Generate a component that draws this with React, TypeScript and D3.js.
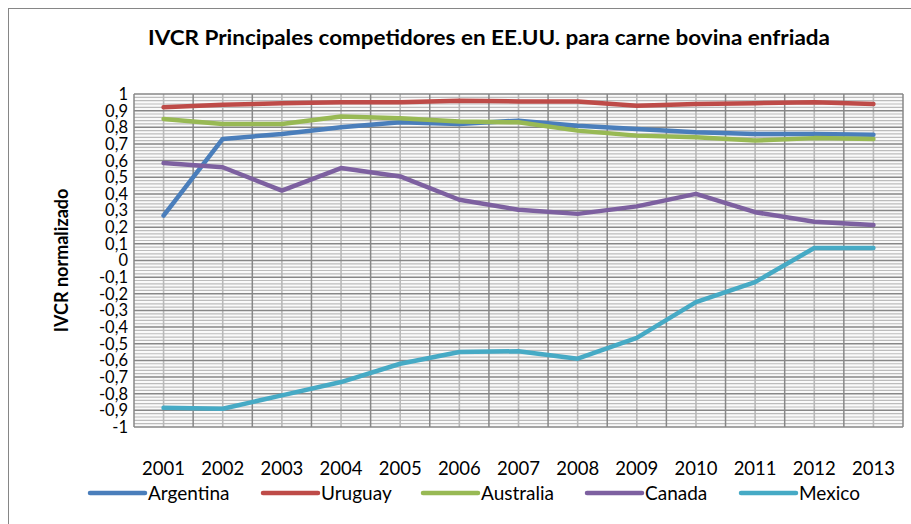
import React from "react";
import * as d3 from "d3";

const years = ["2001","2002","2003","2004","2005","2006","2007","2008","2009","2010","2011","2012","2013"];
const argentina = [0.27,0.73,0.76,0.80,0.83,0.82,0.84,0.81,0.79,0.77,0.76,0.76,0.755];
const uruguay = [0.92,0.935,0.945,0.95,0.95,0.96,0.955,0.955,0.93,0.94,0.945,0.95,0.94];
const australia = [0.85,0.82,0.82,0.865,0.855,0.835,0.83,0.78,0.75,0.74,0.72,0.735,0.73];
const canada = [0.585,0.56,0.42,0.555,0.505,0.365,0.305,0.28,0.325,0.40,0.29,0.233,0.213];
const mexico = [-0.885,-0.89,-0.81,-0.73,-0.62,-0.55,-0.545,-0.59,-0.465,-0.25,-0.13,0.075,0.075];
const seriesNames = ["Argentina","Uruguay","Australia","Canada","Mexico"];
const seriesColors = ["#4a7ebb","#be4b48","#98b954","#7d60a0","#46aac5"];
const yTicks = d3.range(-10, 11).map((d) => d / 10);

const W = 911, H = 524;
const L = 134, R = 903, T = 94, B = 427;

export default function App() {
  const seriesData = [argentina, uruguay, australia, canada, mexico];
  const x = d3.scaleBand().domain(years).range([L, R]).paddingInner(0).paddingOuter(0);
  const y = d3.scaleLinear().domain([-1, 1]).range([B, T]);
  const cx = (yr: string) => (x(yr) as number) + x.bandwidth() / 2;
  const line = d3.line<number>().x((_, i) => cx(years[i])).y((v) => y(v));
  const minor = d3.range(-50, 51).map((d) => d / 50).filter((v) => Math.abs(Math.round(v * 10) - v * 10) > 1e-6);
  const fmt = (v: number) => (v === 0 ? "0" : (Math.abs(v - Math.round(v)) < 1e-9 ? String(Math.round(v)) : v.toFixed(1).replace(".", ",")));
  const legendX = [90, 263, 423, 587, 741];
  const font = "Lato, 'Open Sans', sans-serif";
  return (
    <svg width={W} height={H} style={{ position: "absolute", left: 0, top: 0, background: "#fff" }} fontFamily={font}>
      <rect x={8.5} y={8.5} width={1000} height={1000} fill="#fff" stroke="#868686" strokeWidth={1} />
      <text x={489} y={45} textAnchor="middle" fontWeight="bold" fontSize={20} fill="#000" textLength={682} lengthAdjust="spacingAndGlyphs">
        IVCR  Principales competidores en EE.UU. para carne bovina enfriada
      </text>
      <rect x={L} y={T} width={R - L} height={B - T} fill="#fafafa" />
      {minor.map((v, i) => (
        <line key={"m" + i} x1={L} x2={R} y1={y(v)} y2={y(v)} stroke="#bcbcbc" strokeWidth={1.2} />
      ))}
      {years.map((yr, i) => (
        <line key={"vc" + i} x1={cx(yr)} x2={cx(yr)} y1={T} y2={B} stroke="#b8b8b8" strokeWidth={1.6} />
      ))}
      {yTicks.map((v, i) => (
        <line key={"M" + i} x1={L} x2={R} y1={y(v)} y2={y(v)} stroke="#878787" strokeWidth={1.5} />
      ))}
      {years.map((yr, i) => (
        <line key={"vb" + i} x1={x(yr) as number} x2={x(yr) as number} y1={T} y2={B} stroke="#878787" strokeWidth={1.5} />
      ))}
      <line x1={R} x2={R} y1={T} y2={B} stroke="#878787" strokeWidth={1.5} />
      {yTicks.map((v, i) => (
        <text key={"yt" + i} x={128} y={y(v)} dy="0.36em" textAnchor="end" fontSize={16.5} fill="#000">{fmt(v)}</text>
      ))}
      {years.map((yr, i) => (
        <text key={"xt" + i} x={cx(yr)} y={475} textAnchor="middle" fontSize={18.5} fill="#000">{yr}</text>
      ))}
      <text transform={`translate(68,${(T + B) / 2}) rotate(-90)`} textAnchor="middle" fontWeight="bold" fontSize={18} fill="#000">IVCR normalizado</text>
      {seriesData.map((s, i) => (
        <path key={"s" + i} d={line(s) as string} fill="none" stroke={seriesColors[i]} strokeWidth={4.5} strokeLinejoin="round" strokeLinecap="round" />
      ))}
      {seriesNames.map((n, i) => (
        <g key={"lg" + i}>
          <line x1={legendX[i]} x2={legendX[i] + 55} y1={493} y2={493} stroke={seriesColors[i]} strokeWidth={4.5} strokeLinecap="round" />
          <text x={legendX[i] + 58} y={493} dy="0.36em" fontSize={19} fill="#000">{n}</text>
        </g>
      ))}
    </svg>
  );
}
